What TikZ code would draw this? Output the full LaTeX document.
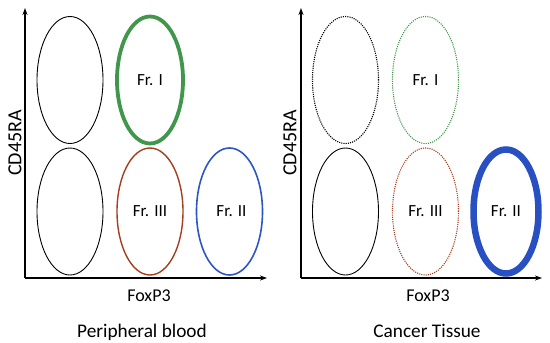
\documentclass[tikz,border=0pt]{standalone}
\usepackage{fontspec}
\setmainfont{Carlito}
\usetikzlibrary{shapes.geometric,arrows.meta}
\definecolor{frgreen}{RGB}{64,150,74}
\definecolor{frbrown}{RGB}{165,62,30}
\definecolor{frblue}{RGB}{45,85,195}
\definecolor{frbluethick}{RGB}{40,80,195}
\begin{document}
\begin{tikzpicture}[x=1pt,y=-1pt,
  gate/.style={ellipse,draw,inner sep=0pt,minimum width=66pt,minimum height=127pt,font=\fontsize{17}{20}\selectfont},
  axis/.style={line width=1.3pt,-{Stealth[length=7pt,width=5pt]}},
  xlbl/.style={font=\fontsize{18}{20}\selectfont,anchor=base},
  ylbl/.style={font=\fontsize{20}{22}\selectfont,rotate=90},
  tlbl/.style={font=\fontsize{19.3}{22}\selectfont,anchor=base},
  dots/.style={line width=1.1pt,dash pattern=on 1.1pt off 1.1pt}]
\useasboundingbox (0,0) rectangle (550,343);
% ---- left panel
\coordinate (o1) at (25,278);
\coordinate (y1) at (25,8);
\coordinate (x1) at (267,278);
\draw[axis] (o1) -- (y1);
\draw[axis] (o1) -- (x1);
\node[gate,line width=0.9pt] (a1) at (70,80) {};
\node[gate,draw=frgreen,line width=3.8pt] (fI1) at (150,80) {Fr. I\hspace{6pt}};
\node[gate,line width=0.9pt] (b1) at (70,211.5) {};
\node[gate,draw=frbrown,line width=1.4pt] (fIII1) at (150,211.5) {Fr. III};
\node[gate,draw=frblue,line width=1.6pt] (fII1) at (229.5,211.5) {\hspace{4pt}Fr. II};
\node[xlbl] (xl1) at (149,301) {FoxP3};
\node[ylbl] (yl1) at (15,143) {CD45RA};
\node[tlbl] (t1) at (142,337) {Peripheral blood};
% ---- right panel
\coordinate (o2) at (301,278);
\coordinate (y2) at (301,8);
\coordinate (x2) at (542,278);
\draw[axis] (o2) -- (y2);
\draw[axis] (o2) -- (x2);
\node[gate,dots] (a2) at (345.5,80) {};
\node[gate,draw=frgreen,dots] (fI2) at (425.5,80) {Fr. I\hspace{4pt}};
\node[gate,line width=0.9pt] (b2) at (345.5,211.5) {};
\node[gate,draw=frbrown,dots] (fIII2) at (425.5,211.5) {Fr. III};
\node[gate,draw=frbluethick,line width=6.5pt,minimum width=65pt,minimum height=124pt] (fII2) at (506,211.5) {Fr. II};
\node[xlbl] (xl2) at (428,301) {FoxP3};
\node[ylbl] (yl2) at (290,143) {CD45RA};
\node[tlbl] (t2) at (427,337) {Cancer Tissue};
\end{tikzpicture}
\end{document}
